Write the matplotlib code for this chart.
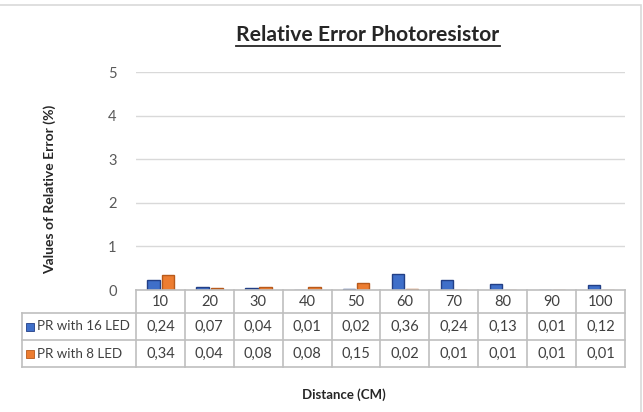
import matplotlib
matplotlib.use("Agg")
import matplotlib.pyplot as plt
from matplotlib.lines import Line2D
from matplotlib.patches import Rectangle
import numpy as np

categories = ["10", "20", "30", "40", "50", "60", "70", "80", "90", "100"]
series_names = ["PR with 16 LED", "PR with 8 LED"]
pr16 = [0.24, 0.07, 0.04, 0.01, 0.02, 0.36, 0.24, 0.13, 0.01, 0.12]
pr8 = [0.34, 0.04, 0.08, 0.08, 0.15, 0.02, 0.01, 0.01, 0.01, 0.01]
yticks = [0, 1, 2, 3, 4, 5]
title = "Relative Error Photoresistor"
ylabel = "Values of Relative Error (%)"
xlabel = "Distance (CM)"

W, H = 643, 412
FONT = "Lato"
plt.rcParams["font.family"] = [FONT, "DejaVu Sans"]

fig = plt.figure(figsize=(W / 100, H / 100), dpi=100)
fig.patch.set_facecolor("white")

def fx(px):
    return px / W

def fy(py):
    return 1 - py / H

# plot area in pixels
L, R, T, B = 136, 625, 72, 290
ax = fig.add_axes([fx(L), fy(B), fx(R) - fx(L), fy(T) - fy(B)])
n = len(categories)
ax.set_xlim(0, n)
ax.set_ylim(0, 5)
x = np.arange(n) + 0.5
blue = "#3F6FC9"
blue_edge = "#223F86"
orange = "#ED7D31"
orange_edge = "#B85A1B"
colors = [(blue, blue_edge), (orange, orange_edge)]
bw = 0.25
ax.bar(x - 0.14, pr16, width=bw, color=blue, edgecolor=blue_edge, linewidth=1, zorder=3)
ax.bar(x + 0.15, pr8, width=bw, color=orange, edgecolor=orange_edge, linewidth=1, zorder=3)
ax.set_yticks(yticks)
ax.set_yticklabels([str(t) for t in yticks], fontsize=10.5, color="#595959")
ax.tick_params(axis="y", length=0, pad=14)
ax.tick_params(axis="x", length=0, labelbottom=False)
ax.grid(axis="y", color="#D9D9D9", linewidth=1)
ax.set_axisbelow(True)
for s in ax.spines.values():
    s.set_visible(False)

# data table
line_c = "#BFBFBF"
colw = (R - L) / n
rows_y = [290, 313, 340, 367]
legend_left = 22
txt_c = "#404040"

def hline(x0, x1, y):
    fig.add_artist(Line2D([fx(x0), fx(x1)], [fy(y), fy(y)], color=line_c, lw=1.2))

def vline(xp, y0, y1):
    fig.add_artist(Line2D([fx(xp), fx(xp)], [fy(y0), fy(y1)], color=line_c, lw=1.2))

hline(L, R, rows_y[0])
for yy in rows_y[1:]:
    hline(legend_left, R, yy)
for i in range(n + 1):
    vline(L + i * colw, rows_y[0], rows_y[3])
vline(legend_left, rows_y[1], rows_y[3])

for i, c in enumerate(categories):
    cx = L + (i + 0.5) * colw
    fig.text(fx(cx), fy((rows_y[0] + rows_y[1]) / 2 + 1), c, ha="center", va="center",
             fontsize=10.5, color=txt_c)
for r, (name, vals) in enumerate(zip(series_names, [pr16, pr8])):
    cy = (rows_y[r + 1] + rows_y[r + 2]) / 2
    fig.add_artist(Rectangle((fx(26), fy(cy + 4)), fx(8), 8 / H, transform=fig.transFigure,
                             facecolor=colors[r][0], edgecolor=colors[r][1], lw=0.6))
    fig.text(fx(37), fy(cy), name, ha="left", va="center", fontsize=9.6, color=txt_c)
    for i, v in enumerate(vals):
        cx = L + (i + 0.5) * colw
        fig.text(fx(cx), fy(cy), f"{v:.2f}".replace(".", ","), ha="center", va="center",
                 fontsize=10.5, color=txt_c)

# title, labels
t = fig.text(fx(368), fy(35), title, ha="center", va="center", fontsize=15.2,
             fontweight="bold", color="#262626")
fig.text(fx(50), fy(189), ylabel, ha="center", va="center", rotation=90, fontsize=10,
         fontweight="bold", color="#262626")
fig.text(fx(344), fy(395), xlabel, ha="center", va="center", fontsize=9.5,
         fontweight="bold", color="#262626")

# underline title
fig.canvas.draw()
bb = t.get_window_extent()
fig.add_artist(Line2D([bb.x0 / W, bb.x1 / W], [(bb.y0 - 1) / H, (bb.y0 - 1) / H],
                      color="#262626", lw=1.3))

# chart border (top and right visible)
fig.add_artist(Rectangle((-0.01, -0.01), fx(641) + 0.01, fy(5) + 0.01, transform=fig.transFigure,
                         fill=False, edgecolor="#D9D9D9", lw=1.2))

fig.savefig("out.png", dpi=100, facecolor="white")
